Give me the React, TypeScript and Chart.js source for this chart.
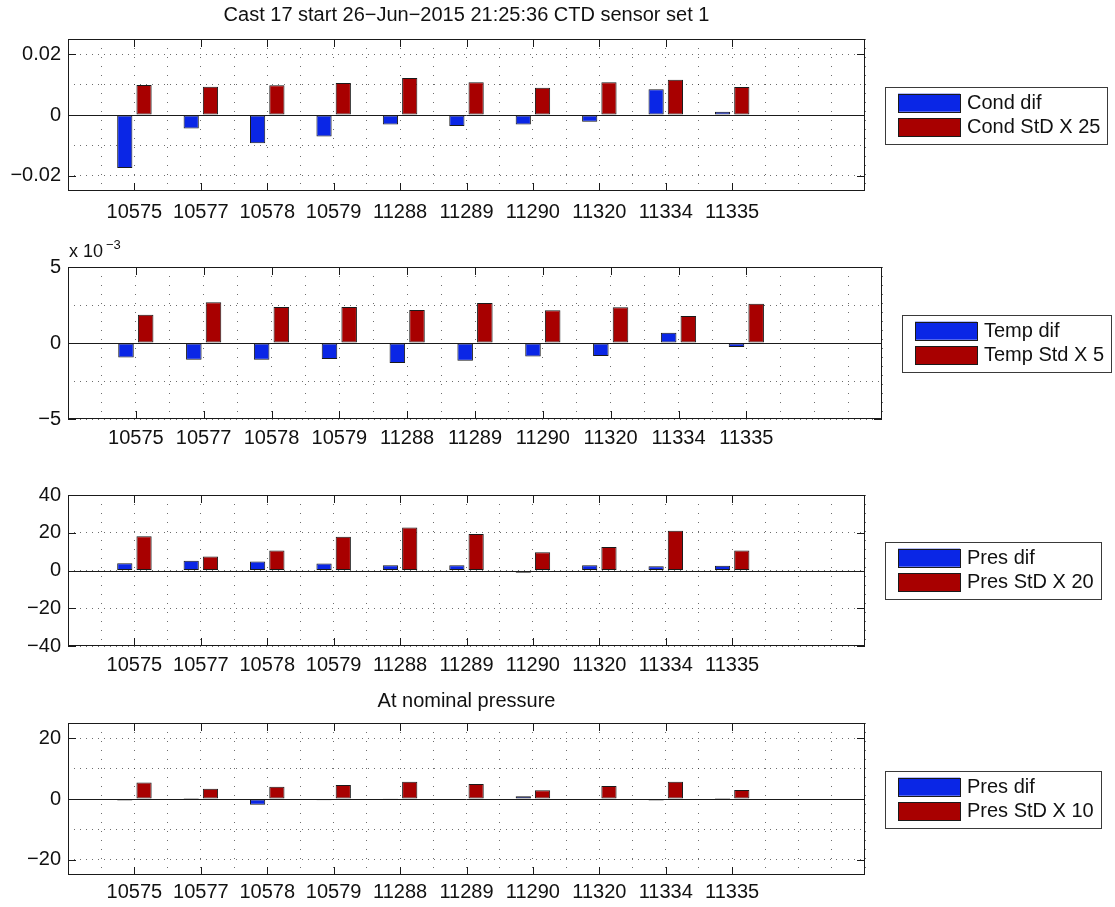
import React, { useEffect, useRef } from 'react';
import { Chart, registerables } from 'chart.js';

Chart.register(...registerables);

// ---------------- data ----------------
const stations = ['10575', '10577', '10578', '10579', '11288', '11289', '11290', '11320', '11334', '11335'];

const mainTitle = 'Cast 17 start 26\u2212Jun\u22122015 21:25:36 CTD sensor set 1';
const subTitle = 'At nominal pressure';

const condLegend = ['Cond dif', 'Cond StD X 25'];
const condDif = [-0.0174, -0.0044, -0.0093, -0.0071, -0.0031, -0.0036, -0.0031, -0.0022, 0.0085, 0.0011];
const condStd25 = [0.0099, 0.0093, 0.0098, 0.0105, 0.0122, 0.0108, 0.009, 0.0108, 0.0116, 0.0092];

const tempLegend = ['Temp dif', 'Temp Std X 5'];
const tempDif = [-0.00096, -0.0011, -0.0011, -0.00105, -0.00132, -0.00116, -0.00088, -0.00086, 0.00068, -0.00026];
const tempStd5 = [0.00186, 0.00268, 0.00237, 0.00237, 0.00217, 0.00263, 0.00215, 0.00235, 0.00178, 0.00259];

const presLegend = ['Pres dif', 'Pres StD X 20'];
const presDif = [3.9, 5.1, 4.8, 3.7, 2.8, 2.8, -1.2, 2.8, 2.3, 2.5];
const presStd20 = [18.2, 7.4, 10.6, 17.9, 22.8, 19.3, 9.7, 12.4, 21.1, 10.6];

const nomLegend = ['Pres dif', 'Pres StD X 10'];
const nomPresDif = [-0.5, 0.3, -1.9, -0.4, 0.1, -0.1, 0.9, -0.3, -0.5, 0.3];
const nomPresStd10 = [5.4, 3.4, 4.0, 4.6, 5.7, 4.9, 2.9, 4.3, 5.7, 3.0];

// tick / grid values
const xGridTicks = [0, 0.5, 1, 1.5, 2, 2.5, 3, 3.5, 4, 4.5, 5, 5.5, 6, 6.5, 7, 7.5, 8, 8.5, 9, 9.5, 10, 10.5, 11, 11.5, 12];
const condGrid = [-0.02, -0.01, 0, 0.01, 0.02];
const condMajor = [-0.02, 0, 0.02];
const tempGrid = [-0.005, -0.0025, 0, 0.0025, 0.005];
const tempMajor = [-0.005, 0, 0.005];
const presGrid = [-40, -30, -20, -10, 0, 10, 20, 30, 40];
const presMajor = [-40, -20, 0, 20, 40];
const nomGrid = [-20, -10, 0, 10, 20];
const nomMajor = [-20, 0, 20];

// ---------------- style ----------------
const W = 1115;
const H = 907;
const BLUE = '#0a26e6';
const RED = '#a80000';
const EDGE = '#1a1a1a';
const GRID = 'rgba(30,30,30,0.65)';
const TEXT = '#111';
const FONT = "'Liberation Sans', Arial, Helvetica, sans-serif";
const FS = 20;

type Plot = {
  band: [number, number];
  area: { left: number; right: number; top: number; bottom: number };
  labelPad: number;
  yMin: number;
  yMax: number;
  yGrid: number[];
  yMajor: number[];
  yScale: number;
  dif: number[];
  std: number[];
  names: string[];
  legend: { x: number; y: number };
  title?: { text: string; y: number };
  exponent?: string;
};

const plots: Plot[] = [
  {
    band: [0, 230],
    area: { left: 68, right: 865, top: 39, bottom: 191 },
    labelPad: 9,
    yMin: -0.025, yMax: 0.025, yGrid: condGrid, yMajor: condMajor, yScale: 1,
    dif: condDif, std: condStd25, names: condLegend,
    legend: { x: 885, y: 87 },
    title: { text: mainTitle, y: 15.5 },
  },
  {
    band: [230, 225],
    area: { left: 68, right: 882, top: 267, bottom: 419 },
    labelPad: 7,
    yMin: -0.005, yMax: 0.005, yGrid: tempGrid, yMajor: tempMajor, yScale: 1000,
    dif: tempDif, std: tempStd5, names: tempLegend,
    legend: { x: 902, y: 315 },
    exponent: '\u22123',
  },
  {
    band: [455, 225],
    area: { left: 68, right: 865, top: 495, bottom: 646 },
    labelPad: 7,
    yMin: -40, yMax: 40, yGrid: presGrid, yMajor: presMajor, yScale: 1,
    dif: presDif, std: presStd20, names: presLegend,
    legend: { x: 885, y: 542 },
  },
  {
    band: [680, 227],
    area: { left: 68, right: 865, top: 723, bottom: 875 },
    labelPad: 5,
    yMin: -25, yMax: 25, yGrid: nomGrid, yMajor: nomMajor, yScale: 1,
    dif: nomPresDif, std: nomPresStd10, names: nomLegend,
    legend: { x: 885, y: 771 },
    title: { text: subTitle, y: 701 },
  },
];

const fmt = (v: number, scale: number) => {
  const n = Math.round(v * scale * 1e6) / 1e6;
  const s = String(Math.abs(n));
  return n < 0 ? '\u2212' + s : s;
};

const isIn = (arr: number[], v: number) => arr.some((m) => Math.abs(m - v) < 1e-9);

function makePlugin(p: Plot) {
  return {
    id: 'matlabLook',
    afterDatasetsDraw(chart: any) {
      const { ctx, chartArea: a, scales } = chart;
      const x = scales.x;
      const y = scales.y;
      const off = p.band[0];
      const line = (x1: number, y1: number, x2: number, y2: number) => {
        ctx.beginPath();
        ctx.moveTo(x1, y1);
        ctx.lineTo(x2, y2);
        ctx.stroke();
      };
      ctx.save();
      ctx.strokeStyle = '#1a1a1a';
      ctx.lineWidth = 1;
      // bar baseline
      const y0 = Math.round(y.getPixelForValue(0)) + 0.5;
      line(a.left, y0, a.right, y0);
      // axes box
      ctx.strokeRect(a.left + 0.5, a.top + 0.5, a.right - a.left - 1, a.bottom - a.top - 1);
      // inward tick marks
      const TL = 8;
      p.yMajor.forEach((v) => {
        const py = Math.round(y.getPixelForValue(v)) + 0.5;
        line(a.left, py, a.left + TL, py);
        line(a.right - TL, py, a.right, py);
      });
      stations.forEach((_, i) => {
        const px = Math.round(x.getPixelForValue(i + 1)) + 0.5;
        line(px, a.bottom, px, a.bottom - TL);
        line(px, a.top, px, a.top + TL);
      });
      ctx.fillStyle = TEXT;
      // titles
      if (p.title) {
        ctx.font = `${FS}px ${FONT}`;
        ctx.textAlign = 'center';
        ctx.textBaseline = 'middle';
        ctx.fillText(p.title.text, (a.left + a.right) / 2, p.title.y - off);
      }
      if (p.exponent) {
        ctx.textAlign = 'left';
        ctx.textBaseline = 'alphabetic';
        ctx.font = `18px ${FONT}`;
        ctx.fillText('x 10', 69, 257 - off);
        ctx.font = `13px ${FONT}`;
        ctx.fillText(p.exponent, 106, 249 - off);
      }
      // legend
      ctx.font = `${FS}px ${FONT}`;
      const lx = p.legend.x;
      const ly = p.legend.y - off;
      const swL = lx + 13;
      const swW = 62;
      const txL = swL + swW + 7;
      const tw = Math.max(...p.names.map((n) => ctx.measureText(n).width));
      const bw = txL + tw + 7 - lx;
      const bh = 57;
      ctx.fillStyle = '#fff';
      ctx.fillRect(lx, ly, bw, bh);
      ctx.strokeStyle = '#3a3a3a';
      ctx.strokeRect(Math.round(lx) + 0.5, Math.round(ly) + 0.5, Math.round(bw), bh);
      const rows = [ly + 15.7, ly + 40.2];
      const cols = [BLUE, RED];
      rows.forEach((cy, i) => {
        ctx.fillStyle = cols[i];
        ctx.fillRect(swL, cy - 9, swW, 18);
        ctx.strokeStyle = EDGE;
        ctx.strokeRect(Math.round(swL) + 0.5, Math.round(cy - 9) + 0.5, swW, 18);
        ctx.fillStyle = TEXT;
        ctx.textAlign = 'left';
        ctx.textBaseline = 'middle';
        ctx.fillText(p.names[i], txL, cy + 0.5);
      });
      ctx.restore();
    },
  };
}

function buildConfig(p: Plot): any {
  const bandBottom = p.band[0] + p.band[1];
  const font = { family: FONT, size: FS };
  const mk = (vals: number[], color: string, label: string) => ({
    label,
    data: stations.map((_, i) => ({ x: i + 1, y: vals[i] })),
    backgroundColor: color,
    borderColor: EDGE,
    borderWidth: 1,
    borderSkipped: false,
  });
  return {
    type: 'bar',
    data: { datasets: [mk(p.dif, BLUE, p.names[0]), mk(p.std, RED, p.names[1])] },
    options: {
      animation: false,
      responsive: false,
      events: [],
      layout: { padding: { left: 0, right: W - p.area.right, top: p.area.top - p.band[0], bottom: 0 } },
      datasets: { bar: { categoryPercentage: 1.16, barPercentage: 0.79 } },
      plugins: { legend: { display: false }, title: { display: false }, tooltip: { enabled: false } },
      scales: {
        x: {
          type: 'linear',
          min: 0,
          max: 12,
          offset: false,
          grid: { offset: false, color: GRID, lineWidth: 1, drawTicks: false },
          border: { display: false, dash: [1, 8] },
          ticks: {
            autoSkip: false,
            maxRotation: 0,
            minRotation: 0,
            padding: p.labelPad,
            font,
            color: TEXT,
            callback: (v: number) => {
              const i = Math.round(v);
              return Math.abs(v - i) < 1e-9 && i >= 1 && i <= stations.length ? stations[i - 1] : '';
            },
          },
          afterBuildTicks: (s: any) => {
            s.ticks = xGridTicks.map((v) => ({ value: v }));
          },
          afterFit: (s: any) => {
            s.height = bandBottom - p.area.bottom;
          },
        },
        y: {
          min: p.yMin,
          max: p.yMax,
          grid: { color: GRID, lineWidth: 1, drawTicks: false },
          border: { display: false, dash: [1, 5] },
          ticks: {
            padding: 7,
            font,
            color: TEXT,
            callback: (v: number) => (isIn(p.yMajor, v) ? fmt(v, p.yScale) : ''),
          },
          afterBuildTicks: (s: any) => {
            s.ticks = p.yGrid.map((v) => ({ value: v }));
          },
          afterFit: (s: any) => {
            s.width = p.area.left;
          },
        },
      },
    },
    plugins: [makePlugin(p)],
  };
}

export default function App() {
  const refs = useRef<(HTMLCanvasElement | null)[]>([]);
  useEffect(() => {
    const charts = plots.map((p, i) => new Chart(refs.current[i] as HTMLCanvasElement, buildConfig(p)));
    return () => charts.forEach((c) => c.destroy());
  }, []);
  return (
    <div style={{ position: 'absolute', left: 0, top: 0, width: W, height: H, background: '#fff' }}>
      {plots.map((p, i) => (
        <canvas
          key={i}
          ref={(el) => {
            refs.current[i] = el;
          }}
          width={W}
          height={p.band[1]}
          style={{ position: 'absolute', left: 0, top: p.band[0], width: W, height: p.band[1], display: 'block' }}
        />
      ))}
    </div>
  );
}
